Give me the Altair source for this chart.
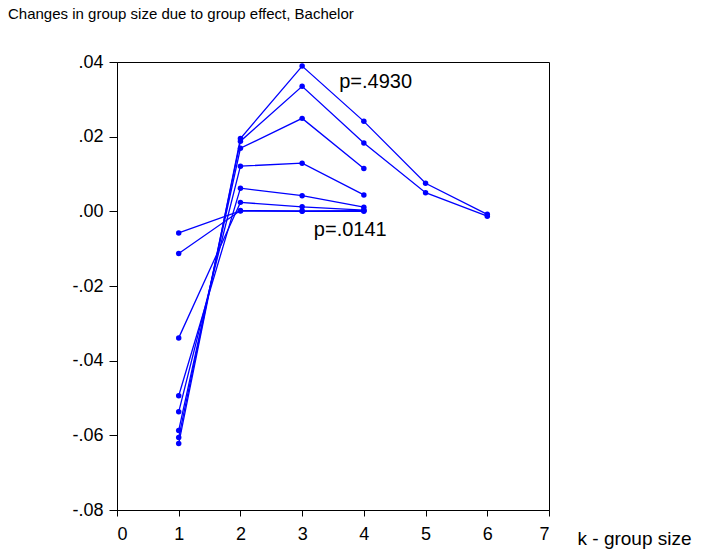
import altair as alt
import pandas as pd

series = ["A", "B", "C", "D", "E", "F", "G", "H"]
ks = [1, 2, 3, 4, 5, 6]
vals_A = [-0.0622, 0.0195, 0.0389, 0.0241, 0.0075, -0.0008]
vals_B = [-0.0606, 0.0188, 0.0335, 0.0183, 0.0050, -0.0013]
vals_C = [-0.0587, 0.0169, 0.0249, 0.0115]
vals_D = [-0.0537, 0.0121, 0.0129, 0.0044]
vals_E = [-0.0494, 0.0062, 0.0042, 0.0011]
vals_F = [-0.0339, 0.0024, 0.0012, 0.0003]
vals_G = [-0.0113, 0.0002, 0.0001, 0.0002]
vals_H = [-0.0058, 0.0001, 0.0000, 0.0000]

ann_text = ["p=.4930", "p=.0141"]
ann_k = [3.6, 3.19]
ann_y = [0.0346, -0.0051]

all_vals = [vals_A, vals_B, vals_C, vals_D, vals_E, vals_F, vals_G, vals_H]
rows = []
for s, vs in zip(series, all_vals):
    for k, v in zip(ks, vs):
        rows.append({"series": s, "k": k, "value": v})
df = pd.DataFrame(rows)
ann = pd.DataFrame({"text": ann_text, "k": ann_k, "value": ann_y})

FONT = "Liberation Sans"

x = alt.X("k:Q", scale=alt.Scale(domain=[0, 7], nice=False),
          axis=alt.Axis(values=list(range(8)), format="d", title="k - group size",
                        tickSize=6, labelPadding=9,
                        titleAnchor="start", titleX=460, titleY=28, titleAlign="left",
                        titleBaseline="middle", titleFontWeight="normal", titleFontSize=19,
                        titleFont=FONT, titleColor="black"))
y = alt.Y("value:Q", scale=alt.Scale(domain=[-0.08, 0.04], nice=False, zero=False),
          axis=alt.Axis(values=[-0.08, -0.06, -0.04, -0.02, 0.0, 0.02, 0.04], title=None,
                        tickSize=8, labelPadding=6,
                        labelExpr="replace(replace(format(datum.value, '.2f'), '0.', '.'), '\u2212', '-')"))

lines = alt.Chart(df).mark_line(
    color="#0000FF", strokeWidth=1.3,
    point=alt.OverlayMarkDef(filled=True, color="#0000FF", size=30, opacity=1)
).encode(x=x, y=y, detail="series:N", order="k:Q")

texts = alt.Chart(ann).mark_text(align="left", baseline="middle", fontSize=20,
                                 font=FONT, color="black").encode(
    x="k:Q", y="value:Q", text="text:N")

chart = alt.layer(lines, texts).properties(
    width=432, height=448,
    title=alt.TitleParams("Changes in group size due to group effect, Bachelor",
                          anchor="start", frame="group", dx=-109, offset=31,
                          fontSize=15, fontWeight="normal", font=FONT, color="black"),
    autosize=alt.AutoSizeParams(type="none"),
    padding={"left": 117, "top": 62, "right": 152, "bottom": 40},
).configure_view(stroke="black", strokeWidth=1).configure_axis(
    grid=False, domainColor="black", tickColor="black",
    labelFontSize=18, labelFont=FONT, labelColor="black",
    domainWidth=1, tickWidth=1
)

chart.save("out.html", embed_options={"renderer": "svg", "actions": False})
